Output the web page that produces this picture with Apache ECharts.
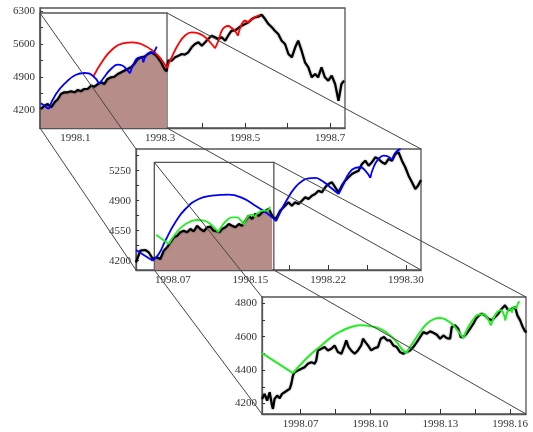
<!DOCTYPE html>
<html>
<head>
<meta charset="utf-8">
<script src="https://cdn.jsdelivr.net/npm/echarts@6/dist/echarts.min.js"></script>
<style>
html, body { margin: 0; padding: 0; background: #fff; }
#main { width: 533px; height: 432px; }
</style>
</head>
<body>
<div id="main"></div>
<script>
// ---- panel 1 (whole period) ----
var p1Price = [
  [1998.019,4221],[1998.027,4291],[1998.035,4327],[1998.043,4257],[1998.051,4363],[1998.059,4433],
  [1998.066,4539],[1998.074,4575],[1998.082,4575],[1998.090,4597],[1998.098,4575],[1998.106,4624],
  [1998.113,4597],[1998.121,4645],[1998.129,4645],[1998.137,4716],[1998.145,4694],[1998.153,4751],
  [1998.161,4787],[1998.168,4751],[1998.176,4858],[1998.184,4893],[1998.192,4906],[1998.200,4964],
  [1998.208,5000],[1998.215,5034],[1998.223,5070],[1998.231,5106],[1998.239,5176],[1998.247,5282],
  [1998.255,5318],[1998.263,5331],[1998.271,5388],[1998.278,5424],[1998.286,5388],[1998.294,5318],
  [1998.302,5212],[1998.310,5070],[1998.315,5020],[1998.319,5250],[1998.327,5246],[1998.335,5318],
  [1998.343,5352],[1998.351,5388],[1998.358,5373],[1998.366,5424],[1998.374,5530],[1998.382,5600],
  [1998.390,5636],[1998.398,5564],[1998.406,5636],[1998.413,5706],[1998.421,5776],[1998.429,5742],
  [1998.437,5706],[1998.445,5742],[1998.453,5670],[1998.460,5776],[1998.468,5882],[1998.476,5882],
  [1998.484,5939],[1998.492,5988],[1998.500,6024],[1998.508,6060],[1998.516,6130],[1998.523,6166],
  [1998.531,6179],[1998.539,6221],[1998.547,6130],[1998.555,6024],[1998.563,5954],[1998.570,5882],
  [1998.578,5812],[1998.586,5670],[1998.594,5600],[1998.602,5388],[1998.610,5318],[1998.618,5530],
  [1998.625,5670],[1998.633,5459],[1998.641,5212],[1998.649,5106],[1998.657,4893],[1998.665,4964],
  [1998.672,4893],[1998.680,5106],[1998.688,4893],[1998.696,4822],[1998.704,4928],[1998.712,4751],
  [1998.720,4397],[1998.727,4751],[1998.733,4822]
];
var p1Red = [
  [[1998.1424,4906],[1998.1645,5246],[1998.1881,5494],[1998.2117,5615],[1998.2352,5636],[1998.2588,5585],[1998.2823,5458],[1998.3019,5282],[1998.3153,5090]],
  [[1998.3153,5090],[1998.327,5318],[1998.343,5600],[1998.358,5776],[1998.374,5848],[1998.390,5827],[1998.406,5742],[1998.421,5600],[1998.429,5509]],
  [[1998.429,5509],[1998.437,5670],[1998.445,5882],[1998.453,5967],[1998.460,5982],[1998.468,5939],[1998.476,5882],[1998.483,5776]],
  [[1998.483,5776],[1998.492,6024],[1998.500,6094],[1998.506,6052]],
  [[1998.506,6052],[1998.514,6109],[1998.523,6166],[1998.535,6215]]
];
var p1Blue = [
  [[1998.0192,4342],[1998.0373,4221]],
  [[1998.0373,4221],[1998.0545,4539],[1998.0781,4787],[1998.1016,4949],[1998.1212,4985],[1998.1410,4928],[1998.1565,4751]],
  [[1998.1565,4751],[1998.1723,4949],[1998.1865,5091],[1998.1999,5162],[1998.2117,5140],[1998.2211,5056],[1998.2289,4978]],
  [[1998.2289,4978],[1998.2366,5162],[1998.2470,5303],[1998.2548,5318],[1998.2602,5212]],
  [[1998.2602,5212],[1998.2682,5373],[1998.2783,5424],[1998.2837,5388]],
  [[1998.2837,5388],[1998.2918,5543]]
];
var p1XTicks = [1998.1, 1998.2, 1998.3, 1998.4, 1998.5, 1998.6, 1998.7];
var p1XLabelValues = [1998.1, 1998.3, 1998.5, 1998.7];
var p1XLabelText = ['1998.1', '1998.3', '1998.5', '1998.7'];
var p1YTicks = [4200, 4550, 4900, 5250, 5600, 5950, 6300];
var p1YLabels = [4200, 4900, 5600, 6300];

// ---- panel 2 (first zoom) ----
var p2Price = [
  [1998.0395,4181],[1998.0437,4317],[1998.0485,4325],[1998.0518,4298],[1998.0534,4278],[1998.0557,4220],
  [1998.0576,4200],[1998.0598,4240],[1998.0630,4220],[1998.0663,4317],[1998.0695,4356],[1998.0727,4415],
  [1998.0760,4473],[1998.0792,4492],[1998.0823,4531],[1998.0856,4550],[1998.0888,4531],[1998.0920,4570],
  [1998.0953,4543],[1998.0985,4608],[1998.1017,4570],[1998.1050,4543],[1998.1082,4590],[1998.1113,4597],
  [1998.1146,4550],[1998.1178,4543],[1998.1200,4531],[1998.1226,4570],[1998.1258,4590],[1998.1291,4628],
  [1998.1323,4608],[1998.1355,4590],[1998.1388,4628],[1998.1420,4608],[1998.1452,4667],[1998.1485,4725],
  [1998.1516,4687],[1998.1548,4745],[1998.1581,4725],[1998.1613,4765],[1998.1645,4783],[1998.1678,4803],
  [1998.1710,4725],[1998.1736,4687],[1998.1758,4713],[1998.1787,4783],[1998.1803,4783],[1998.1835,4842],
  [1998.1867,4881],[1998.1900,4842],[1998.1932,4881],[1998.1964,4862],[1998.1997,4900],[1998.2029,4940],
  [1998.2061,4920],[1998.2093,4958],[1998.2125,4978],[1998.2157,5017],[1998.2190,4998],[1998.2222,5056],
  [1998.2254,5095],[1998.2287,5115],[1998.2319,5056],[1998.2351,4998],[1998.2383,5075],[1998.2415,5133],
  [1998.2447,5173],[1998.2480,5212],[1998.2512,5231],[1998.2544,5250],[1998.2577,5328],[1998.2609,5367],
  [1998.2641,5308],[1998.2673,5348],[1998.2705,5406],[1998.2737,5387],[1998.2770,5348],[1998.2802,5328],
  [1998.2834,5387],[1998.2867,5367],[1998.2899,5445],[1998.2930,5465],[1998.2963,5367],[1998.2995,5290],
  [1998.3027,5192],[1998.3060,5115],[1998.3092,5037],[1998.3118,5075],[1998.3147,5142]
];
var p2Blue = [
  [[1998.0395,4325],[1998.0557,4200]],
  [[1998.0557,4200],[1998.0615,4278],[1998.0678,4433],[1998.0775,4648],[1998.0872,4803],[1998.1001,4920],[1998.1130,4958],[1998.1291,4970],[1998.1420,4932],[1998.1548,4842],[1998.1645,4765],[1998.1710,4706],[1998.1748,4660]],
  [[1998.1748,4660],[1998.1803,4803],[1998.1867,4940],[1998.1932,5056],[1998.1997,5126],[1998.2061,5161],[1998.2125,5165],[1998.2190,5133],[1998.2254,5075],[1998.2319,5010],[1998.2351,4978]],
  [[1998.2351,4978],[1998.2399,5095],[1998.2447,5212],[1998.2512,5282],[1998.2560,5290],[1998.2609,5250],[1998.2657,5165]],
  [[1998.2657,5165],[1998.2689,5290],[1998.2737,5387],[1998.2786,5425],[1998.2834,5413],[1998.2867,5375]],
  [[1998.2867,5375],[1998.2892,5445],[1998.2918,5483],[1998.2950,5500]]
];
var p2Green = [
  [[1998.0589,4503],[1998.0711,4395]],
  [[1998.0711,4395],[1998.0775,4512],[1998.0840,4597],[1998.0905,4648],[1998.0985,4675],[1998.1050,4667],[1998.1113,4628],[1998.1162,4570],[1998.1188,4531]],
  [[1998.1188,4531],[1998.1226,4608],[1998.1275,4675],[1998.1323,4706],[1998.1371,4706],[1998.1403,4675],[1998.1436,4620]],
  [[1998.1436,4620],[1998.1468,4698],[1998.1510,4737],[1998.1543,4713]],
  [[1998.1543,4713],[1998.1581,4765],[1998.1629,4783],[1998.1661,4783],[1998.1688,4830]]
];
var p2XTicks = [1998.075, 1998.1125, 1998.15, 1998.1875, 1998.225, 1998.2625, 1998.3];
var p2XLabelValues = [1998.075, 1998.15, 1998.225, 1998.3];
var p2XLabelText = ['1998.07', '1998.15', '1998.22', '1998.30'];
var p2YTicks = [4200, 4375, 4550, 4725, 4900, 5075, 5250, 5425];
var p2YLabels = [4200, 4550, 4900, 5250];

// ---- panel 3 (second zoom) ----
var p3Price = [
  [1998.0534,4228],[1998.0545,4258],[1998.0556,4218],[1998.0567,4268],[1998.0577,4188],[1998.0581,4168],
  [1998.0588,4228],[1998.0599,4248],[1998.0610,4232],[1998.0620,4258],[1998.0631,4268],[1998.0642,4278],
  [1998.0653,4288],[1998.0660,4318],[1998.0667,4368],[1998.0674,4388],[1998.0688,4398],[1998.0703,4408],
  [1998.0717,4418],[1998.0731,4438],[1998.0746,4448],[1998.0760,4438],[1998.0767,4458],[1998.0774,4518],
  [1998.0789,4528],[1998.0803,4538],[1998.0817,4518],[1998.0832,4528],[1998.0846,4548],[1998.0860,4508],
  [1998.0875,4498],[1998.0889,4548],[1998.0896,4578],[1998.0906,4538],[1998.0917,4518],[1998.0932,4498],
  [1998.0946,4518],[1998.0960,4548],[1998.0968,4588],[1998.0978,4568],[1998.0989,4548],[1998.1003,4518],
  [1998.1018,4532],[1998.1032,4538],[1998.1044,4588],[1998.1058,4598],[1998.1072,4578],[1998.1084,4578],
  [1998.1098,4548],[1998.1113,4538],[1998.1127,4508],[1998.1141,4498],[1998.1156,4508],[1998.1170,4518],
  [1998.1184,4538],[1998.1199,4568],[1998.1213,4598],[1998.1227,4628],[1998.1242,4618],[1998.1256,4632],
  [1998.1270,4624],[1998.1285,4612],[1998.1299,4588],[1998.1313,4608],[1998.1328,4592],[1998.1342,4588],
  [1998.1349,4658],[1998.1363,4668],[1998.1377,4648],[1998.1388,4598],[1998.1399,4598],[1998.1413,4618],
  [1998.1428,4648],[1998.1442,4678],[1998.1453,4708],[1998.1463,4724],[1998.1478,4738],[1998.1492,4728],
  [1998.1506,4708],[1998.1521,4698],[1998.1535,4718],[1998.1549,4738],[1998.1564,4768],[1998.1578,4788],
  [1998.1592,4758],[1998.1607,4768],[1998.1621,4778],[1998.1631,4728],[1998.1643,4698],[1998.1654,4658],
  [1998.1664,4632],[1998.1671,4628]
];
var p3Green = [
  [[1998.0534,4502],[1998.0667,4382]],
  [[1998.0667,4382],[1998.0703,4438],[1998.0746,4498],[1998.0789,4548],[1998.0832,4598],[1998.0875,4634],[1998.0917,4658],[1998.0960,4668],[1998.1003,4662],[1998.1046,4644],[1998.1084,4608],[1998.1113,4568],[1998.1134,4528],[1998.1153,4502]],
  [[1998.1153,4502],[1998.1184,4568],[1998.1213,4628],[1998.1242,4678],[1998.1270,4704],[1998.1299,4712],[1998.1328,4698],[1998.1356,4668],[1998.1377,4632],[1998.1399,4592]],
  [[1998.1399,4592],[1998.1420,4658],[1998.1442,4704],[1998.1463,4732],[1998.1485,4734],[1998.1502,4712],[1998.1517,4668]],
  [[1998.1517,4668],[1998.1531,4718],[1998.1545,4748],[1998.1560,4758],[1998.1574,4728],[1998.1579,4698]],
  [[1998.1579,4698],[1998.1588,4748],[1998.1600,4768],[1998.1608,4744]],
  [[1998.1608,4744],[1998.1617,4778],[1998.1625,4772],[1998.1633,4798],[1998.1640,4812]]
];
var p3XTicks = [1998.07, 1998.085, 1998.1, 1998.115, 1998.13, 1998.145, 1998.16];
var p3XLabelValues = [1998.07, 1998.1, 1998.13, 1998.16];
var p3XLabelText = ['1998.07', '1998.10', '1998.13', '1998.16'];
var p3YTicks = [4200, 4300, 4400, 4500, 4600, 4700, 4800];
var p3YLabels = [4200, 4400, 4600, 4800];

// axis ranges and zoom boxes
var ranges = [
  {xMin: 1998.0168, xMax: 1998.7353, yMin: 3818, yMax: 6364},
  {xMin: 1998.0395, xMax: 1998.3147, yMin: 4091.5, yMax: 5503},
  {xMin: 1998.0534, xMax: 1998.1668, yMin: 4137.6, yMax: 4837.8}
];
var boxes = [
  {x0: 1998.0168, x1: 1998.316, top: 6258},
  {x0: 1998.0572, x1: 1998.1726, top: 5348}
];

var FONT = 'Liberation Serif';
var FRAME = '#555';
var BROWN = '#b68d89';

function nearestIndex(list, v) {
  var best = 0;
  for (var i = 1; i < list.length; i++) {
    if (Math.abs(list[i] - v) < Math.abs(list[best] - v)) best = i;
  }
  return best;
}

function makeX(gi, ticks, labelValues, labelText) {
  return {
    type: 'value', gridIndex: gi,
    min: ranges[gi].xMin, max: ranges[gi].xMax,
    axisLine: {show: true, lineStyle: {color: FRAME, width: 1.3}},
    splitLine: {show: false},
    axisTick: {show: true, inside: true, length: 5, customValues: ticks, lineStyle: {color: '#333'}},
    axisLabel: {
      customValues: labelValues,
      formatter: function (v) { return labelText[nearestIndex(labelValues, v)]; },
      fontFamily: FONT, fontSize: 11, color: '#333', margin: 5
    }
  };
}

function makeY(gi, ticks, labels) {
  return {
    type: 'value', gridIndex: gi,
    min: ranges[gi].yMin, max: ranges[gi].yMax,
    axisLine: {show: true, lineStyle: {color: FRAME, width: 1.3}},
    splitLine: {show: false},
    axisTick: {show: true, inside: true, length: 3, customValues: ticks, lineStyle: {color: '#333'}},
    axisLabel: {
      customValues: labels,
      formatter: function (v) { return String(Math.round(v)); },
      fontFamily: FONT, fontSize: 11, color: '#333', margin: 5
    }
  };
}

function line(gi, data, color, width, smooth, z) {
  return {
    type: 'line', xAxisIndex: gi, yAxisIndex: gi, data: data,
    symbol: 'none', smooth: smooth, silent: true, z: z,
    lineStyle: {color: color, width: width}
  };
}

// black price line with the soft grey halo of the original
function priceLine(gi, data) {
  var s = line(gi, data, '#000', 2.2, false, 3);
  s.lineStyle.shadowColor = 'rgba(0,0,0,0.45)';
  s.lineStyle.shadowBlur = 2;
  return s;
}

// brown area under the price inside a zoom box, plus the box outline
function boxArea(gi, price) {
  var b = boxes[gi];
  var inside = price.filter(function (p) { return p[0] >= b.x0 - 1e-6 && p[0] <= b.x1; });
  return {
    type: 'line', xAxisIndex: gi, yAxisIndex: gi, data: inside,
    symbol: 'none', silent: true, z: 1,
    lineStyle: {width: 0},
    areaStyle: {color: BROWN, opacity: 1, origin: 'start'},
    markArea: {
      silent: true,
      itemStyle: {color: 'rgba(0,0,0,0)', borderColor: FRAME, borderWidth: 1.3},
      data: [[{coord: [b.x0, b.top]}, {coord: [b.x1, ranges[gi].yMin]}]]
    }
  };
}

var series = [];
series.push(boxArea(0, p1Price));
series.push(boxArea(1, p2Price));
series.push(priceLine(0, p1Price));
series.push(priceLine(1, p2Price));
series.push(priceLine(2, p3Price));
p1Red.forEach(function (a) { series.push(line(0, a, '#ff0000', 1.8, true, 4)); });
p1Blue.forEach(function (a) { series.push(line(0, a, '#0000ff', 1.8, true, 4)); });
p2Blue.forEach(function (a) { series.push(line(1, a, '#0000ff', 1.8, true, 4)); });
p2Green.forEach(function (a) { series.push(line(1, a, '#22ee22', 1.8, true, 4)); });
p3Green.forEach(function (a) { series.push(line(2, a, '#22ee22', 2, true, 4)); });

var gridBase = {show: true, borderColor: FRAME, borderWidth: 1.3, backgroundColor: 'transparent'};
var option = {
  animation: false,
  backgroundColor: '#fff',
  grid: [
    Object.assign({left: 40, top: 8, width: 305, height: 120}, gridBase),
    Object.assign({left: 136, top: 149, width: 285, height: 121}, gridBase),
    Object.assign({left: 262, top: 297, width: 264, height: 117}, gridBase)
  ],
  xAxis: [
    makeX(0, p1XTicks, p1XLabelValues, p1XLabelText),
    makeX(1, p2XTicks, p2XLabelValues, p2XLabelText),
    makeX(2, p3XTicks, p3XLabelValues, p3XLabelText)
  ],
  yAxis: [
    makeY(0, p1YTicks, p1YLabels),
    makeY(1, p2YTicks, p2YLabels),
    makeY(2, p3YTicks, p3YLabels)
  ],
  series: series
};

var chart = echarts.init(document.getElementById('main'), null, {renderer: 'canvas'});
chart.setOption(option);

// connector lines: zoom box corners -> next panel's frame corners
function px(gi, x, y) { return chart.convertToPixel({gridIndex: gi}, [x, y]); }
var links = [];
for (var i = 0; i < 2; i++) {
  var b = boxes[i], r = ranges[i], n = ranges[i + 1];
  links.push([px(i, b.x0, b.top), px(i + 1, n.xMin, n.yMax)]);
  links.push([px(i, b.x1, b.top), px(i + 1, n.xMax, n.yMax)]);
  links.push([px(i, b.x0, r.yMin), px(i + 1, n.xMin, n.yMin)]);
  links.push([px(i, b.x1, r.yMin), px(i + 1, n.xMax, n.yMin)]);
}
chart.setOption({
  graphic: links.map(function (l) {
    return {
      type: 'line', silent: true, z: 100,
      shape: {x1: l[0][0], y1: l[0][1], x2: l[1][0], y2: l[1][1]},
      style: {stroke: '#444', lineWidth: 1}
    };
  })
});
</script>
</body>
</html>
